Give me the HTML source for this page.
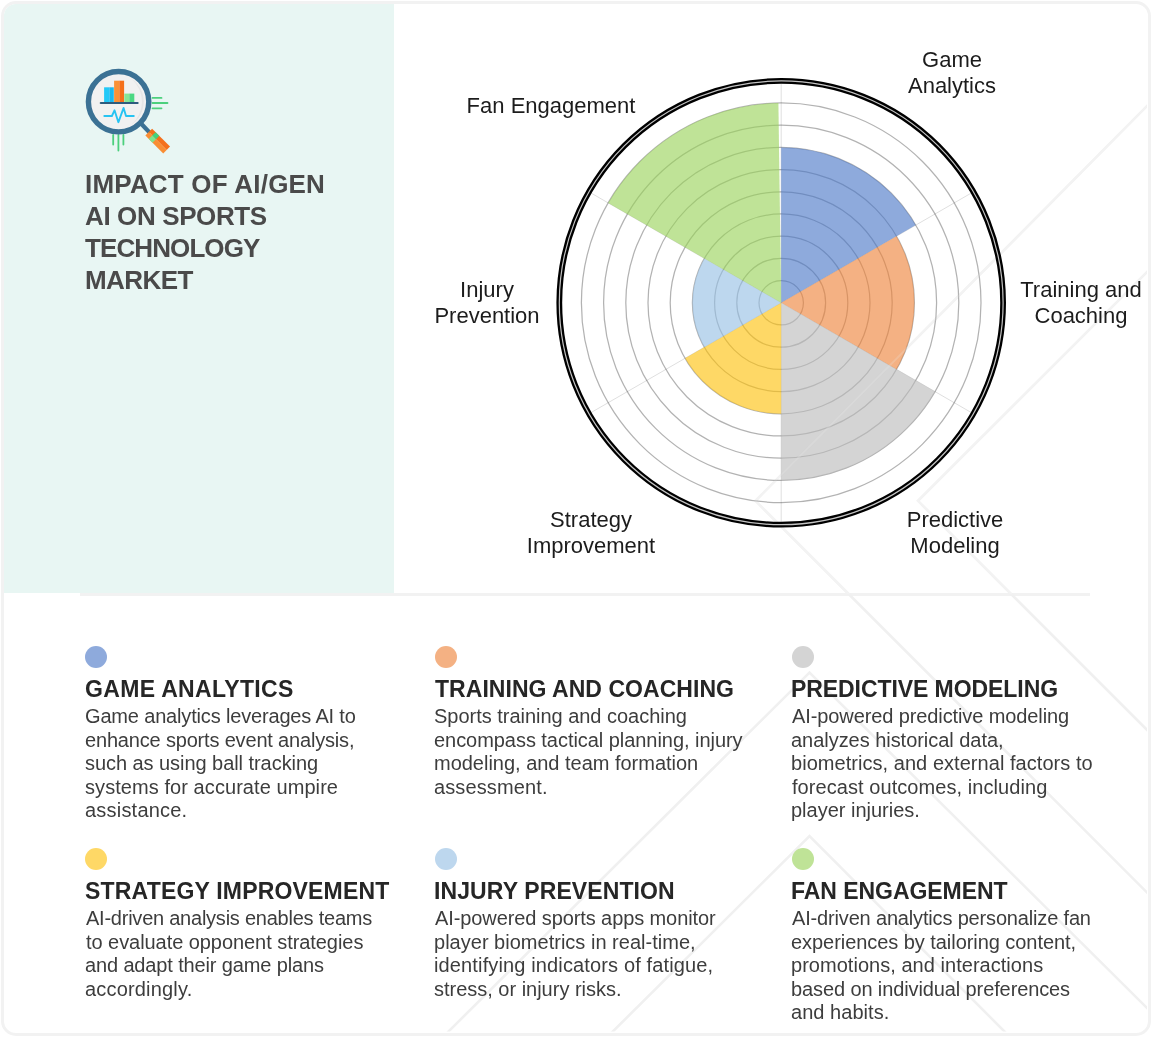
<!DOCTYPE html>
<html>
<head>
<meta charset="utf-8">
<style>
*{margin:0;padding:0;box-sizing:border-box}
html,body{width:1170px;height:1049px;background:#fff;overflow:hidden}
body{position:relative;font-family:"Liberation Sans",sans-serif}
#title,.lbl,.h,.p{will-change:transform}
.abs{position:absolute}
#card{position:absolute;left:0.5px;top:1px;width:1150px;height:1034.5px;border:3.5px solid #f2f2f2;border-radius:15px;overflow:hidden;background:#fff}
#mint{position:absolute;left:0;top:0;width:390px;height:589px;background:#e8f6f3}
#sep{position:absolute;left:80px;top:593px;width:1010px;height:3px;background:#f2f2f2}
#title{position:absolute;left:85px;top:168px;font-weight:bold;font-size:26px;line-height:32px;color:#4a4a4a;white-space:nowrap}
.lbl{position:absolute;font-size:22px;line-height:26.3px;color:#1c1c1c;text-align:center;white-space:nowrap;width:200px}
.dot{position:absolute;width:22px;height:22px;border-radius:50%}
.h{position:absolute;font-weight:bold;font-size:23px;line-height:26px;letter-spacing:0.6px;color:#262626;white-space:nowrap}
.p{position:absolute;font-size:20px;line-height:23.5px;letter-spacing:0.3px;color:#3d3d3d;white-space:nowrap}
</style>
</head>
<body>
<div id="card">
  <div id="mint"></div>
</div>
<div id="sep"></div>

<!-- decorative background lines -->
<svg class="abs" style="left:0;top:0" width="1170" height="1049" viewBox="0 0 1170 1049">
  <defs><clipPath id="cc"><rect x="394" y="4.5" width="753" height="1027"/></clipPath></defs>
  <g clip-path="url(#cc)" fill="none" stroke="#f0f0f0" stroke-width="2.6">
    <polyline points="1149,104 755.5,500.8 1149,894.5"/>
    <polyline points="1149,270 918,500.8 1149,731.8"/>
    <polyline points="447,1033 809.5,672.5 1149,1010"/>
    <polyline points="611.3,1033 809.5,836 1006,1033"/>
  </g>
</svg>

<!-- icon -->
<svg class="abs" style="left:0;top:0" width="200" height="170" viewBox="0 0 200 170">
  <g stroke="#4cd07d" stroke-width="1.8" stroke-linecap="round" fill="none">
    <line x1="152.5" y1="97.9" x2="161.5" y2="97.9"/>
    <line x1="152.5" y1="103" x2="167.5" y2="103"/>
    <line x1="152.5" y1="108.3" x2="161.5" y2="108.3"/>
    <line x1="113.2" y1="135" x2="113.2" y2="144.5"/>
    <line x1="118.4" y1="135" x2="118.4" y2="150.5"/>
    <line x1="123.4" y1="135" x2="123.4" y2="144.5"/>
  </g>
  <line x1="141" y1="123.5" x2="150" y2="133" stroke="#3b7194" stroke-width="4.2"/>
  <g transform="translate(148.75,132.1) rotate(45)">
    <rect x="0" y="-4.8" width="25.3" height="4.8" fill="#f4701c"/>
    <rect x="0" y="0" width="25.3" height="4.8" fill="#f98d33"/>
    <rect x="4.9" y="-4.8" width="5.2" height="4.8" fill="#40d27e"/>
    <rect x="4.9" y="0" width="5.2" height="4.8" fill="#7ee38f"/>
  </g>
  <circle cx="118.6" cy="101.7" r="30.2" fill="#f1f1f1" stroke="#3b7194" stroke-width="5.4"/>
  <path d="M131,78.5 A27.5,27.5 0 0 1 131,124.9 A30,30 0 0 0 131,78.5 Z" fill="#e6e6e6"/>
  <rect x="104.1" y="87.3" width="5.2" height="15" fill="#23c8f7"/>
  <rect x="109.3" y="87.3" width="4.5" height="15" fill="#1bb8ee"/>
  <rect x="114.1" y="80.7" width="5.2" height="21.6" fill="#fb9136"/>
  <rect x="119.3" y="80.7" width="4.8" height="21.6" fill="#f56e1a"/>
  <rect x="124.3" y="93.6" width="5" height="8.7" fill="#86e596"/>
  <rect x="129.3" y="93.6" width="5" height="8.7" fill="#4dd883"/>
  <line x1="100.8" y1="103" x2="137.6" y2="103" stroke="#2f5b7d" stroke-width="2.2" stroke-linecap="round"/>
  <polyline points="104.3,116 111.9,116 114.5,110.3 118.4,122.2 123.6,107.9 126,116 133.8,116" fill="none" stroke="#27c3f2" stroke-width="1.9" stroke-linejoin="round" stroke-linecap="round"/>
</svg>

<div id="title"><div style="letter-spacing:0.2px">IMPACT OF AI/GEN</div><div style="letter-spacing:-0.38px">AI ON SPORTS</div><div style="letter-spacing:-0.9px">TECHNOLOGY</div><div style="letter-spacing:-0.56px">MARKET</div></div>

<!-- chart -->
<svg class="abs" style="left:0;top:0" width="1170" height="600" viewBox="0 0 1170 600">
  <defs><clipPath id="cc2"><rect x="394" y="4.5" width="753" height="590"/></clipPath></defs>
  <g transform="translate(781.2,302.8)">
    <g stroke="#000" stroke-opacity="0.13" stroke-width="1">
      <line x1="0" y1="0" x2="0" y2="-222"/>
      <line x1="0" y1="0" x2="192.26" y2="-111"/>
      <line x1="0" y1="0" x2="192.26" y2="111"/>
      <line x1="0" y1="0" x2="0" y2="222"/>
      <line x1="0" y1="0" x2="-192.26" y2="111"/>
      <line x1="0" y1="0" x2="-192.26" y2="-111"/>
    </g>
    <g fill="none" stroke="#000" stroke-opacity="0.3" stroke-width="1.25">
      <circle r="22.2"/><circle r="44.4"/><circle r="66.6"/><circle r="88.8"/><circle r="111"/>
      <circle r="133.2"/><circle r="155.4"/><circle r="177.6"/><circle r="199.8"/>
    </g>
    <g fill-opacity="0.62">
    <path d="M0,0 L0,-155.4 A155.4,155.4 0 0 1 134.58,-77.7 Z" fill="#4976c7"/>
    <path d="M0,0 L115.35,-66.6 A133.2,133.2 0 0 1 115.35,66.6 Z" fill="#ed8137"/>
    <path d="M0,0 L153.81,88.8 A177.6,177.6 0 0 1 0,177.6 Z" fill="#bababa"/>
    <path d="M0,0 L0,111 A111,111 0 0 1 -96.13,55.5 Z" fill="#fdc008"/>
    <path d="M0,0 L-76.9,44.4 A88.8,88.8 0 0 1 -76.9,-44.4 Z" fill="#95bee4"/>
    <path d="M0,0 L-173.03,-99.9 A199.8,199.8 0 0 1 -2.79,-199.78 Z" fill="#98d257"/>
    </g>
  </g>
  <g clip-path="url(#cc2)" fill="none" stroke="#fff" stroke-opacity="0.2" stroke-width="2.2">
    <polyline points="1149,104 755.5,500.8 1149,894.5"/>
    <polyline points="1149,270 918,500.8 1149,731.8"/>
  </g>
  <g transform="translate(781.2,302.8)">
    <circle r="221.9" fill="none" stroke="#000" stroke-width="5.8"/>
    <circle r="221.9" fill="none" stroke="#c4c4c4" stroke-width="1.2"/>
  </g>
</svg>

<div class="lbl" style="left:851.5px;top:47.3px">Game<br>Analytics</div>
<div class="lbl" style="left:450.5px;top:93.0px">Fan Engagement</div>
<div class="lbl" style="left:387px;top:277.3px">Injury<br>Prevention</div>
<div class="lbl" style="left:980.6px;top:276.9px">Training and<br>Coaching</div>
<div class="lbl" style="left:490.5px;top:507.1px">Strategy<br>Improvement</div>
<div class="lbl" style="left:855.2px;top:507.2px">Predictive<br>Modeling</div>

<!-- bottom items -->
<div class="dot" style="left:85.4px;top:645.5px;background:#8eaadc"></div>
<div class="h" style="left:85.0px;top:676.03px;letter-spacing:0.323px">GAME ANALYTICS</div>
<div class="p" style="left:85.0px;top:704.62px"><div style="margin-left:0px;letter-spacing:-0.166px">Game analytics leverages AI to</div><div style="margin-left:0px;letter-spacing:-0.176px">enhance sports event analysis,</div><div style="margin-left:0px;letter-spacing:-0.054px">such as using ball tracking</div><div style="margin-left:0px;letter-spacing:0.069px">systems for accurate umpire</div><div style="margin-left:0px;letter-spacing:0.210px">assistance.</div></div>
<div class="dot" style="left:434.8px;top:645.5px;background:#f4b183"></div>
<div class="h" style="left:435.4px;top:676.03px;letter-spacing:0.040px">TRAINING AND COACHING</div>
<div class="p" style="left:434.4px;top:704.62px"><div style="margin-left:0px;letter-spacing:-0.022px">Sports training and coaching</div><div style="margin-left:0px;letter-spacing:-0.047px">encompass tactical planning, injury</div><div style="margin-left:0px;letter-spacing:-0.015px">modeling, and team formation</div><div style="margin-left:0px;letter-spacing:0.120px">assessment.</div></div>
<div class="dot" style="left:791.8px;top:645.5px;background:#d4d4d4"></div>
<div class="h" style="left:791.4px;top:676.03px;letter-spacing:-0.072px">PREDICTIVE MODELING</div>
<div class="p" style="left:791.4px;top:704.62px"><div style="margin-left:1px;letter-spacing:-0.103px">AI-powered predictive modeling</div><div style="margin-left:0px;letter-spacing:-0.037px">analyzes historical data,</div><div style="margin-left:0px;letter-spacing:0.044px">biometrics, and external factors to</div><div style="margin-left:1px;letter-spacing:0.067px">forecast outcomes, including</div><div style="margin-left:0px;letter-spacing:-0.007px">player injuries.</div></div>
<div class="dot" style="left:85.4px;top:847.7px;background:#fed866"></div>
<div class="h" style="left:85.0px;top:878.23px;letter-spacing:0.189px">STRATEGY IMPROVEMENT</div>
<div class="p" style="left:85.0px;top:906.72px"><div style="margin-left:1px;letter-spacing:-0.235px">AI-driven analysis enables teams</div><div style="margin-left:1px;letter-spacing:-0.057px">to evaluate opponent strategies</div><div style="margin-left:0px;letter-spacing:-0.136px">and adapt their game plans</div><div style="margin-left:0px;letter-spacing:0.182px">accordingly.</div></div>
<div class="dot" style="left:434.8px;top:847.7px;background:#bdd7ee"></div>
<div class="h" style="left:434.4px;top:878.23px;letter-spacing:0.106px">INJURY PREVENTION</div>
<div class="p" style="left:434.4px;top:906.72px"><div style="margin-left:1px;letter-spacing:-0.097px">AI-powered sports apps monitor</div><div style="margin-left:0px;letter-spacing:0.013px">player biometrics in real-time,</div><div style="margin-left:0px;letter-spacing:0.136px">identifying indicators of fatigue,</div><div style="margin-left:0px;letter-spacing:-0.013px">stress, or injury risks.</div></div>
<div class="dot" style="left:791.8px;top:847.7px;background:#bfe397"></div>
<div class="h" style="left:791.4px;top:878.23px;letter-spacing:-0.046px">FAN ENGAGEMENT</div>
<div class="p" style="left:791.4px;top:906.72px"><div style="margin-left:1px;letter-spacing:-0.165px">AI-driven analytics personalize fan</div><div style="margin-left:0px;letter-spacing:-0.053px">experiences by tailoring content,</div><div style="margin-left:0px;letter-spacing:0.033px">promotions, and interactions</div><div style="margin-left:0px;letter-spacing:-0.110px">based on individual preferences</div><div style="margin-left:0px;letter-spacing:0.040px">and habits.</div></div>

</body>
</html>
